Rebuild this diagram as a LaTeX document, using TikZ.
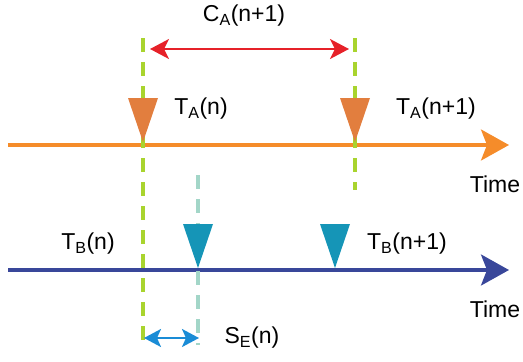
\documentclass[tikz,border=0pt]{standalone}
\usepackage{fontspec}
\setmainfont{Liberation Sans}
\usetikzlibrary{arrows.meta,calc}
\definecolor{lineorange}{HTML}{F58C2A}
\definecolor{triorange}{HTML}{E27E3E}
\definecolor{lineblue}{HTML}{39479A}
\definecolor{tealtri}{HTML}{1595B7}
\definecolor{markgreen}{HTML}{A9D42E}
\definecolor{markteal}{HTML}{A3D6C8}
\definecolor{spanred}{HTML}{E62129}
\definecolor{spanblue}{HTML}{1A8CD6}
\tikzset{
    lab/.style={
        font=\fontsize{23}{27}\selectfont, inner sep=0pt
    },
    axis/.style={line width=3.2pt, -{Stealth[length=28pt, width=31pt, inset=6pt]}},
    dashmark/.style={line width=3.2pt, dash pattern=on 14pt off 10pt}
}

\begin{document}
\begin{tikzpicture}[x=1pt,y=-1pt, line join=round]
\useasboundingbox (0,0) rectangle (523,362);

% time lines
\coordinate (aL) at (8,145);
\coordinate (aR) at (509,145);
\coordinate (bL) at (8,270);
\coordinate (bR) at (509,270);
\draw[axis, color=lineorange] (aL) -- (aR);
\draw[axis, color=lineblue] (bL) -- (bR);

% dashed markers
\coordinate (gA) at (143,38);
\coordinate (gB) at (143,342);
\coordinate (gC) at (355,38);
\coordinate (gD) at (355,190);
\coordinate (eA) at (198,175);
\coordinate (eB) at (198,345);
\draw[dashmark, color=markgreen] (gA) -- (gB);
\draw[dashmark, color=markgreen] (gC) -- (gD);
\draw[dashmark, color=markteal] (eA) -- (eB);

% triangles
\def\tw{15}
\def\th{44}
\foreach \x/\y/\c in {143/142/triorange, 355/142/triorange, 198/268/tealtri, 335/268/tealtri} {
  \fill[\c] (\x,\y) -- ($(\x,\y)+(-\tw,-\th)$) -- ($(\x,\y)+(\tw,-\th)$) -- cycle;
}

% spans
\coordinate (cL) at (150,49);
\coordinate (cR) at (349,49);
\draw[line width=2pt, color=spanred, {Stealth[length=19pt, width=20pt, inset=5pt]}-{Stealth[length=19pt, width=20pt, inset=5pt]}] (cL) -- (cR);
\coordinate (sL) at (144,338);
\coordinate (sR) at (199,338);
\draw[line width=2.2pt, color=spanblue, {Stealth[length=17pt, width=18pt, inset=4pt]}-{Stealth[length=17pt, width=18pt, inset=4pt]}] (sL) -- (sR);

% labels
\node[lab] (ca) at (244,16) {C\textsubscript{A}(n+1)};
\node[lab] (tan) at (201,109) {T\textsubscript{A}(n)};
\node[lab] (tan1) at (436,109) {T\textsubscript{A}(n+1)};
\node[lab] (tbn) at (88,244) {T\textsubscript{B}(n)};
\node[lab] (tbn1) at (407,244) {T\textsubscript{B}(n+1)};
\node[lab] (se) at (252,338) {S\textsubscript{E}(n)};
\node[lab] (timeA) at (495,184) {Time};
\node[lab] (timeB) at (495,309) {Time};

\end{tikzpicture}
\end{document}
